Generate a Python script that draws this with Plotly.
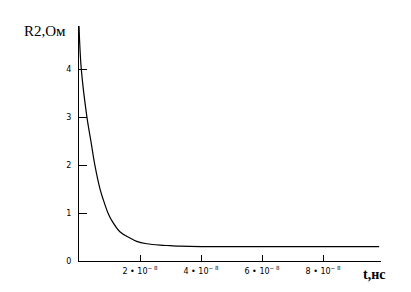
import plotly.graph_objects as go

# time in units of 1e-8
t_units = [0, 0.075, 0.26, 0.39, 0.52, 0.69, 0.8, 0.95, 1.05, 1.34, 1.67, 1.89,
           2.22, 2.66, 2.98, 3.3, 4.0, 5.0, 6.0, 7.0, 8.0, 9.0, 9.84]
r2_ohm = [4.9, 4.0, 3.0, 2.5, 2.0, 1.5, 1.27, 1.0, 0.87, 0.61, 0.48, 0.41,
          0.36, 0.33, 0.32, 0.31, 0.30, 0.30, 0.30, 0.30, 0.30, 0.30, 0.30]
t_vals = [v * 1e-8 for v in t_units]

x_tickvals = [2e-8, 4e-8, 6e-8, 8e-8]
x_ticktext = ["2 \u2022 10<sup>\u2212 8</sup>", "4 \u2022 10<sup>\u2212 8</sup>",
              "6 \u2022 10<sup>\u2212 8</sup>", "8 \u2022 10<sup>\u2212 8</sup>"]
y_tickvals = [0, 1, 2, 3, 4]
y_ticktext = ["0", "1", "2", "3", "4"]

W, H = 411, 292
L, R, T, B = 79, 30, 26, 31
pw, ph = W - L - R, H - T - B

fig = go.Figure()
fig.add_trace(go.Scatter(x=t_vals, y=r2_ohm, mode="lines",
                         line=dict(color="black", width=1.2, shape="spline", smoothing=1.0),
                         showlegend=False, hoverinfo="skip"))

anns = []
for txt, px, py, fnt in [("R2,Ом", 45, 31, dict(family="Liberation Serif", size=15, color="black")),
                         ("<b>t,нс</b>", 374, 274, dict(family="Liberation Serif", size=14, color="black"))]:
    anns.append(dict(text=txt, xref="paper", yref="paper",
                     x=(px - L) / pw, y=1 - (py - T) / ph,
                     xanchor="center", yanchor="middle", showarrow=False, font=fnt))

fig.update_layout(
    width=W, height=H,
    margin=dict(l=L, r=R, t=T, b=B),
    paper_bgcolor="white", plot_bgcolor="white",
    font=dict(family="DejaVu Sans", color="black", size=7),
    xaxis=dict(range=[0, 9.9e-8], tickvals=x_tickvals, ticktext=x_ticktext,
               showgrid=False, zeroline=False, showline=True, linecolor="black",
               linewidth=1, ticks="inside", ticklen=6, tickcolor="black",
               tickfont=dict(size=8, family="DejaVu Sans"), ticklabelstandoff=2),
    yaxis=dict(range=[0, 4.9], tickvals=y_tickvals, ticktext=y_ticktext,
               showgrid=False, zeroline=False, showline=True, linecolor="black",
               linewidth=1, ticks="inside", ticklen=8, tickcolor="black",
               tickfont=dict(size=8, family="DejaVu Sans"), ticklabelstandoff=5),
    annotations=anns,
)

fig.write_html("out.html")
